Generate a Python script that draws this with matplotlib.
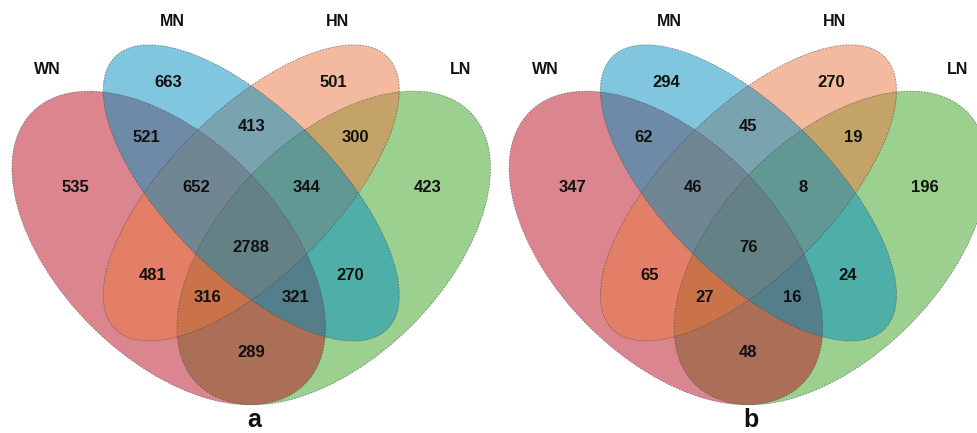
import matplotlib
matplotlib.use("Agg")
import matplotlib.pyplot as plt
from matplotlib.patches import Ellipse

plt.rcParams["font.family"] = ["Liberation Sans", "DejaVu Sans"]

# set names and region membership (WN, MN, HN, LN)
set_names = ["WN", "MN", "HN", "LN"]
regions = [
    (1, 0, 0, 0), (0, 1, 0, 0), (0, 0, 1, 0), (0, 0, 0, 1),
    (1, 1, 0, 0), (0, 1, 1, 0), (0, 0, 1, 1),
    (1, 1, 1, 0), (0, 1, 1, 1), (1, 1, 1, 1),
    (1, 0, 1, 0), (0, 1, 0, 1),
    (1, 0, 1, 1), (1, 1, 0, 1), (1, 0, 0, 1),
]
counts_a = [535, 663, 501, 423, 521, 413, 300, 652, 344, 2788, 481, 270, 316, 321, 289]
counts_b = [347, 294, 270, 196, 62, 45, 19, 46, 8, 76, 65, 24, 27, 16, 48]
panels = ["a", "b"]

# quad venn layout (unit square)
ellipses = {
    "WN": dict(xy=(0.35, 0.47), a=0.35, b=0.20, angle=135, color="#b90f1f"),
    "MN": dict(xy=(0.50, 0.57), a=0.35, b=0.15, angle=135, color="#008fbf"),
    "HN": dict(xy=(0.50, 0.57), a=0.35, b=0.15, angle=45, color="#eb7741"),
    "LN": dict(xy=(0.65, 0.47), a=0.35, b=0.20, angle=45, color="#3aa321"),
}
draw_order = ["LN", "WN", "HN", "MN"]

label_pos = {
    (1, 0, 0, 0): (0.18, 0.58), (0, 1, 0, 0): (0.35, 0.77),
    (0, 0, 1, 0): (0.65, 0.77), (0, 0, 0, 1): (0.82, 0.58),
    (1, 1, 0, 0): (0.31, 0.67), (0, 1, 1, 0): (0.50, 0.69),
    (0, 0, 1, 1): (0.69, 0.67), (1, 1, 1, 0): (0.40, 0.58),
    (0, 1, 1, 1): (0.60, 0.58), (1, 1, 1, 1): (0.50, 0.47),
    (1, 0, 1, 0): (0.32, 0.42), (0, 1, 0, 1): (0.68, 0.42),
    (1, 0, 1, 1): (0.42, 0.38), (1, 1, 0, 1): (0.58, 0.38),
    (1, 0, 0, 1): (0.50, 0.28),
}
set_label_pos = {"WN": (0.130, 0.794), "MN": (0.356, 0.881),
                 "HN": (0.656, 0.881), "LN": (0.881, 0.794)}

fig = plt.figure(figsize=(9.77, 4.33), dpi=100)
ax = fig.add_axes([0, 0, 1, 1])
ax.set_xlim(0.0432, 1.8196)
ax.set_ylim(0.1335, 0.9208)
ax.axis("off")

for k, (panel, counts) in enumerate(zip(panels, [counts_a, counts_b])):
    dx = k * 0.904
    for name in draw_order:
        e = ellipses[name]
        ax.add_patch(Ellipse((e["xy"][0] + dx, e["xy"][1]), 2 * e["a"], 2 * e["b"],
                             angle=e["angle"], facecolor=e["color"], alpha=0.5,
                             edgecolor="none"))
    for name in draw_order:
        e = ellipses[name]
        ax.add_patch(Ellipse((e["xy"][0] + dx, e["xy"][1]), 2 * e["a"], 2 * e["b"],
                             angle=e["angle"], facecolor="none", edgecolor="#444444",
                             linewidth=0.6, linestyle=(0, (2, 1.5)), alpha=0.6))
    for reg, n in zip(regions, counts):
        x, y = label_pos[reg]
        ax.text(x + dx, y, str(n), ha="center", va="center", fontsize=12,
                fontweight="bold", color="#111111")
    for name in set_names:
        x, y = set_label_pos[name]
        ax.text(x + dx, y, name, ha="center", va="center", fontsize=11.5,
                fontweight="bold", color="#111111")
    ax.text(0.505 + dx, 0.157, panel, ha="center", va="center", fontsize=18,
            fontweight="bold", color="#111111")

fig.savefig("out.png", dpi=100)
